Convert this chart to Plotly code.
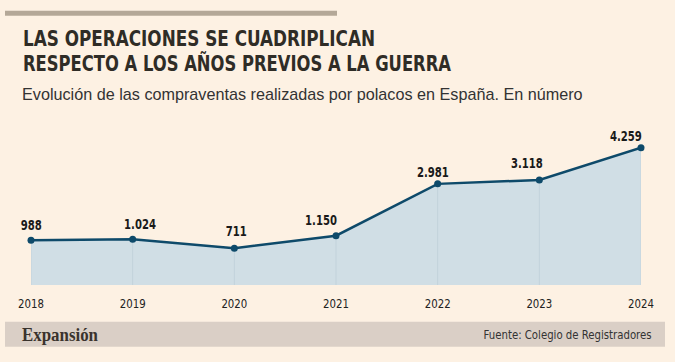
import json
import plotly.graph_objects as go

# ---- data ----
years = [2018, 2019, 2020, 2021, 2022, 2023, 2024]
operaciones = [988, 1024, 711, 1150, 2981, 3118, 4259]
title_lines = ["LAS OPERACIONES SE CUADRIPLICAN", "RESPECTO A LOS AÑOS PREVIOS A LA GUERRA"]
subtitle = "Evolución de las compraventas realizadas por polacos en España. En número"
source = "Fuente: Colegio de Registradores"
brand = "Expansión"

label_dx = [0, 7, 2, -15, -5, -12, -15]
label_dy = [15, 15, 17, 16, 12, 17, 12]

W, H = 675, 362
L, R = 31, 641
T, B = 120, 285
Y_MIN, Y_MAX = -591, 5237

def px(p):
    return (p - L) / (R - L)

def py(p):
    return (B - p) / (B - T)

BG = "#fdf1e3"
LINE = "#0e4a6a"
FILL = "#d0dee5"
VLINE = "#c2d2db"
COND = "DejaVu Sans Condensed, DejaVu Sans, sans-serif"

def fmt(v):
    return f"{v:,}".replace(",", ".")

fig = go.Figure()

vx, vy = [], []
for yr, v in zip(years, operaciones):
    vx += [yr, yr, None]
    vy += [Y_MIN, v, None]

fig.add_trace(go.Scatter(
    x=years, y=[Y_MIN] * len(years), mode="lines",
    line=dict(width=0, color=FILL), hoverinfo="skip", showlegend=False))
fig.add_trace(go.Scatter(
    x=years, y=operaciones, mode="lines", fill="tonexty",
    fillcolor=FILL, line=dict(width=0, color=FILL), hoverinfo="skip", showlegend=False))
fig.add_trace(go.Scatter(
    x=vx, y=vy, mode="lines", line=dict(color=VLINE, width=1),
    hoverinfo="skip", showlegend=False))
fig.add_trace(go.Scatter(
    x=years, y=operaciones, mode="lines+markers",
    line=dict(color=LINE, width=2.5),
    marker=dict(size=7, color=LINE), cliponaxis=False, showlegend=False))

annotations = []
for yr, v, dx, dy in zip(years, operaciones, label_dx, label_dy):
    annotations.append(dict(
        x=yr, y=v, xref="x", yref="y", text=fmt(v),
        showarrow=False, xanchor="center", yanchor="middle", align="center",
        xshift=dx, yshift=dy,
        font=dict(family=COND, size=14, color="#1a1a1a", weight="bold")))

for line, cy in zip(title_lines, [38.5, 63.5]):
    annotations.append(dict(
        x=px(21), y=py(cy), xref="paper", yref="paper", text=line,
        showarrow=False, xanchor="left", yanchor="middle", align="left",
        font=dict(family=COND, size=22, color="#2f2c26", weight="bold")))
annotations.append(dict(
    x=px(20), y=py(94), xref="paper", yref="paper", text=subtitle,
    showarrow=False, xanchor="left", yanchor="middle", align="left",
    font=dict(family="Liberation Sans, Arial, sans-serif", size=16.2, color="#333333")))

annotations.append(dict(
    x=px(20), y=py(334), xref="paper", yref="paper", text=brand,
    showarrow=False, xanchor="left", yanchor="middle", align="left",
    font=dict(family="Liberation Serif, DejaVu Serif, serif", size=19, color="#3a332d", weight="bold")))
annotations.append(dict(
    x=px(654), y=py(334), xref="paper", yref="paper", text=source,
    showarrow=False, xanchor="right", yanchor="middle", align="right",
    font=dict(family=COND, size=12.8, color="#333333")))

shapes = [
    dict(type="rect", xref="paper", yref="paper", x0=px(5), x1=px(337),
         y0=py(15.7), y1=py(10.7), fillcolor="#b4a898", line=dict(width=0), layer="below"),
    dict(type="rect", xref="paper", yref="paper", x0=px(5), x1=px(665),
         y0=py(346.7), y1=py(321.7), fillcolor="#dacfc6", line=dict(width=0), layer="below"),
]

fig.update_layout(
    width=W, height=H,
    margin=dict(l=L, r=W - R, t=T, b=H - B, pad=0),
    paper_bgcolor=BG, plot_bgcolor=BG,
    showlegend=False,
    annotations=annotations, shapes=shapes,
    xaxis=dict(range=[years[0], years[-1]], tickmode="array", tickvals=years,
               ticktext=[str(y) for y in years], showgrid=False, zeroline=False,
               showline=False, ticks="outside", ticklen=6, tickcolor="rgba(0,0,0,0)",
               tickfont=dict(family=COND, size=13, color="#222222"),
               fixedrange=True),
    yaxis=dict(range=[Y_MIN, Y_MAX], showgrid=False, zeroline=False, showline=False,
               showticklabels=False, ticks="", fixedrange=True),
)

# condensing of texts to emulate the narrow newspaper typeface
widths = {title_lines[0]: 352, title_lines[1]: 428, source: 168, brand: 76}
factors = {fmt(v): 0.8 for v in operaciones}
factors.update({str(y): 0.87 for y in years})

post = """
document.body.style.margin='0';
document.body.style.background='%s';
var W_ = %s, F_ = %s;
document.querySelectorAll('.js-plotly-plot text').forEach(function(t){
  var s = t.textContent, w = null;
  if (W_.hasOwnProperty(s)) w = W_[s];
  else if (F_.hasOwnProperty(s)) w = t.getComputedTextLength() * F_[s];
  if (w === null) return;
  var bb = t.getBBox();
  var anchor = t.getAttribute('text-anchor') || 'start';
  var x0;
  if (anchor === 'end') x0 = bb.x + bb.width - w;
  else if (anchor === 'middle') x0 = bb.x + (bb.width - w) / 2;
  else x0 = bb.x;
  t.setAttribute('text-anchor', 'start');
  t.style.textAnchor = 'start';
  t.setAttribute('x', x0);
  t.querySelectorAll('tspan').forEach(function(sp){ if (sp.hasAttribute('x')) sp.setAttribute('x', x0); });
  t.setAttribute('textLength', w);
  t.setAttribute('lengthAdjust', 'spacingAndGlyphs');
});
""" % (BG, json.dumps(widths, ensure_ascii=False), json.dumps(factors))

fig.write_html("out.html", config=dict(displayModeBar=False), post_script=post)
